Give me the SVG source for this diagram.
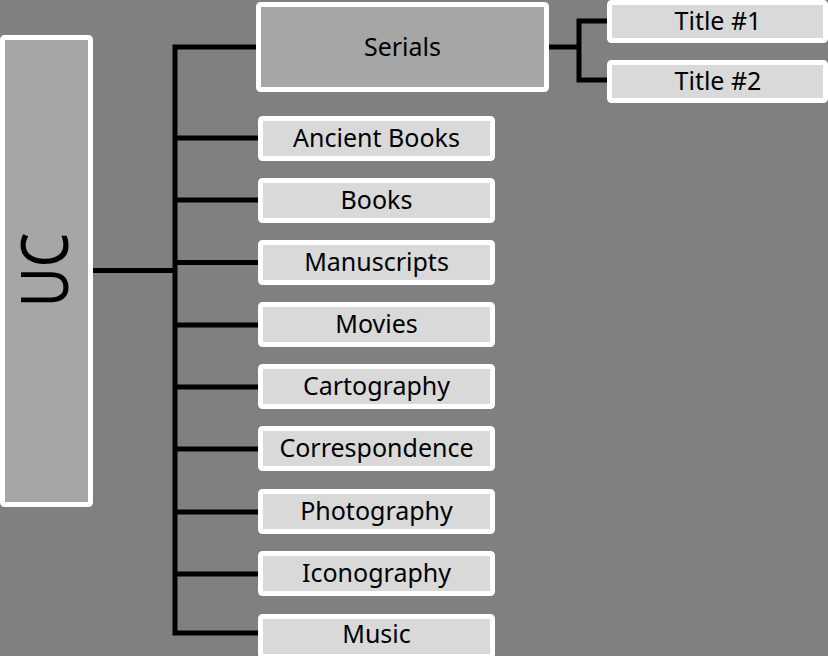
<svg xmlns="http://www.w3.org/2000/svg" width="828" height="656" viewBox="0 0 828 656">
<style>
.bg{fill:#808080}
.main{fill:#a6a6a6;stroke:#ffffff;stroke-width:5}
.leaf{fill:#d9d9d9;stroke:#ffffff;stroke-width:5}
.lbl{font-family:"Noto Sans","Open Sans","Liberation Sans",sans-serif;font-size:25px;fill:#000;text-anchor:middle}
.conn{fill:none;stroke:#000;stroke-width:5;stroke-linejoin:miter;stroke-linecap:butt}
</style>
<rect class="bg" x="0" y="0" width="828" height="656"/>
<g id="connectors">
<path class="conn" d="M93 270.5H175M177.5 47H256M175 44.5V635.5M175 138H258M175 200H258M175 262.5H258M175 325H258M175 387H258M175 449H258M175 512H258M175 574H258M172.5 633H258"/>
<path class="conn" d="M549 47H579M579 18.5V82.5M576.5 21H607M576.5 80H607"/>
</g>
<g id="uc"><rect class="main" x="2.5" y="37.5" width="88" height="467" rx="2"/><text class="lbl" transform="translate(68,270) rotate(-90) scale(0.83,1)" x="0" y="0" style="font-size:66px">UC</text></g>
<g id="serials"><rect class="main" x="258.5" y="4.5" width="288" height="85" rx="2"/><text class="lbl" x="402.5" y="56">Serials</text></g>
<g id="title1"><rect class="leaf" x="609.5" y="2.5" width="216" height="38" rx="2"/><text class="lbl" x="718" y="30">Title #1</text></g>
<g id="title2"><rect class="leaf" x="609.5" y="62.5" width="216" height="38" rx="2"/><text class="lbl" x="718" y="90">Title #2</text></g>
<g id="ancient"><rect class="leaf" x="260.5" y="118.5" width="232" height="40" rx="2"/><text class="lbl" x="376.5" y="147">Ancient Books</text></g>
<g id="books"><rect class="leaf" x="260.5" y="180.5" width="232" height="40" rx="2"/><text class="lbl" x="376.5" y="209">Books</text></g>
<g id="manuscripts"><rect class="leaf" x="260.5" y="242.5" width="232" height="40" rx="2"/><text class="lbl" x="376.5" y="271">Manuscripts</text></g>
<g id="movies"><rect class="leaf" x="260.5" y="304.5" width="232" height="40" rx="2"/><text class="lbl" x="376.5" y="333">Movies</text></g>
<g id="cartography"><rect class="leaf" x="260.5" y="366.5" width="232" height="40" rx="2"/><text class="lbl" x="376.5" y="395">Cartography</text></g>
<g id="correspondence"><rect class="leaf" x="260.5" y="428.5" width="232" height="40" rx="2"/><text class="lbl" x="376.5" y="457">Correspondence</text></g>
<g id="photography"><rect class="leaf" x="260.5" y="491.5" width="232" height="40" rx="2"/><text class="lbl" x="376.5" y="520">Photography</text></g>
<g id="iconography"><rect class="leaf" x="260.5" y="553.5" width="232" height="40" rx="2"/><text class="lbl" x="376.5" y="582">Iconography</text></g>
<g id="music"><rect class="leaf" x="260.5" y="616.5" width="232" height="40" rx="2"/><text class="lbl" x="376.5" y="643">Music</text></g>
</svg>
